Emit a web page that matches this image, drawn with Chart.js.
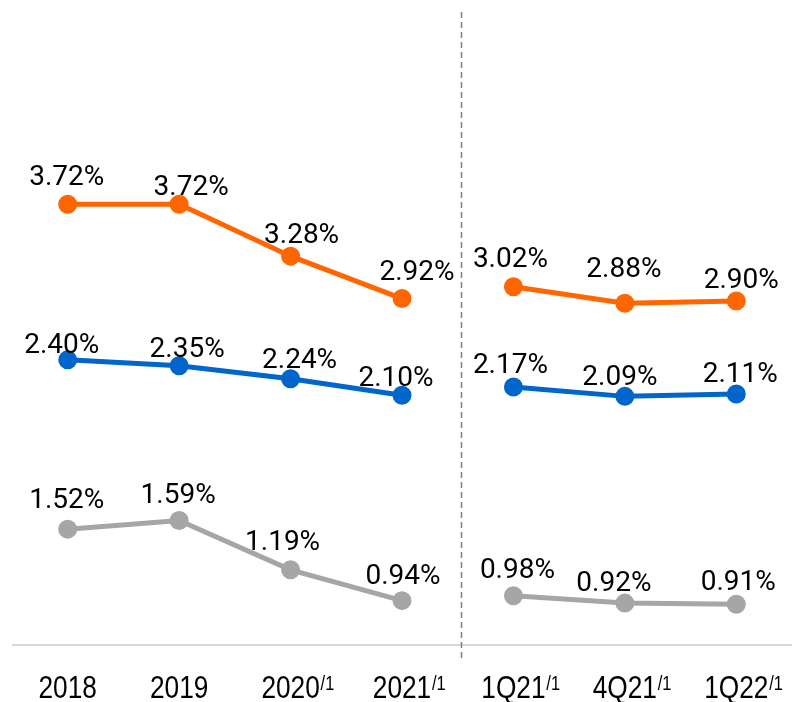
<!DOCTYPE html>
<html>
<head>
<meta charset="utf-8">
<script src="https://cdn.jsdelivr.net/npm/chart.js@4.4.1/dist/chart.umd.min.js"></script>
<style>
  html, body { margin: 0; padding: 0; background: #fff; }
  #wrap { width: 804px; height: 702px; }
</style>
</head>
<body>
<div id="wrap"><canvas id="lineChart" width="804" height="702"></canvas></div>
<script>
(function() {
    'use strict';

    /* ---- Data ---- */
    var categories = ['2018', '2019', '2020', '2021', '1Q21', '4Q21', '1Q22'];
    var footnotes = ['', '', '/1', '/1', '/1', '/1', '/1'];
    var orangeValues = [3.72, 3.72, 3.28, 2.92, 3.02, 2.88, 2.90];
    var blueValues = [2.40, 2.35, 2.24, 2.10, 2.17, 2.09, 2.11];
    var grayValues = [1.52, 1.59, 1.19, 0.94, 0.98, 0.92, 0.91];

    /* ---- Label nudges (px, relative to each point) ---- */
    var orangeNudge = [[-1, -29], [12, -19], [11, -23], [15, -29], [-3, -30], [-1, -36], [5, -23]];
    var blueNudge = [[-6, -17], [8, -19], [9, -21], [-6, -19], [-3, -24], [-5, -21], [4, -22]];
    var grayNudge = [[-1, -31], [-1, -28], [-8, -30], [1, -27], [4, -28], [-11, -22], [2, -24]];

    var BREAK_AFTER = 3;      // no line between 2021 and 1Q21
    var DIVIDER_AT = 3.53;    // dashed separator position on category scale
    var TICK_SQUEEZE = 0.82;  // narrow look for the category labels

    function pct(v) { return v.toFixed(2) + '%'; }

    function makeSet(data, color, nudge, axis) {
        return {
            data: data,
            yAxisID: axis,
            borderColor: color,
            backgroundColor: color,
            pointBackgroundColor: color,
            pointBorderColor: color,
            borderWidth: 5,
            pointRadius: 7,
            pointHoverRadius: 7,
            tension: 0,
            fill: false,
            clip: false,
            nudge: nudge,
            segment: {
                borderColor: function(ctx) { return ctx.p0DataIndex === BREAK_AFTER ? 'rgba(0,0,0,0)' : color; }
            }
        };
    }

    /* ---- Custom drawing: axis, divider, labels ---- */
    var decorPlugin = {
        id: 'decor',
        beforeDatasetsDraw: function(chart) {
            var c = chart.ctx, a = chart.chartArea, x = chart.scales.x;
            c.save();
            // bottom axis line
            c.strokeStyle = '#d9d9d9';
            c.lineWidth = 2;
            c.beginPath();
            c.moveTo(a.left, a.bottom);
            c.lineTo(a.right, a.bottom);
            c.stroke();
            // dashed divider
            var p3 = x.getPixelForValue(3), p4 = x.getPixelForValue(4);
            var dx = Math.round(p3 + (DIVIDER_AT - 3) * (p4 - p3)) + 0.5;
            c.strokeStyle = '#7f7f7f';
            c.lineWidth = 1.5;
            c.setLineDash([6, 4]);
            c.beginPath();
            c.moveTo(dx, a.top);
            c.lineTo(dx, a.bottom + 15);
            c.stroke();
            c.restore();
        },
        afterDatasetsDraw: function(chart) {
            var c = chart.ctx, a = chart.chartArea, x = chart.scales.x;
            c.save();
            // value labels
            c.fillStyle = '#000';
            c.font = '28px Roboto';
            c.textAlign = 'center';
            c.textBaseline = 'alphabetic';
            chart.data.datasets.forEach(function(ds, di) {
                var meta = chart.getDatasetMeta(di);
                meta.data.forEach(function(pt, i) {
                    var n = ds.nudge[i];
                    c.fillText(pct(ds.data[i]), pt.x + n[0], pt.y + n[1] + 10);
                });
            });
            // category labels with superscript footnotes (horizontally squeezed)
            var base = a.bottom + 53;
            categories.forEach(function(lab, i) {
                var px = x.getPixelForValue(i);
                c.save();
                c.translate(px, base);
                c.scale(TICK_SQUEEZE, 1);
                c.font = '32px "Liberation Sans", Arial, sans-serif';
                c.textAlign = 'center';
                c.fillText(lab, 0, 0);
                if (footnotes[i]) {
                    var w = c.measureText(lab).width;
                    c.font = '20px "Liberation Sans", Arial, sans-serif';
                    c.textAlign = 'left';
                    c.fillText(footnotes[i], w / 2 + 1, -8);
                }
                c.restore();
            });
            c.restore();
        }
    };

    var ctx = document.getElementById('lineChart');
    var lineChart = new Chart(ctx.getContext('2d'), {
        type: 'line',
        data: {
            labels: categories,
            datasets: [
                makeSet(orangeValues, '#ff6600', orangeNudge, 'y'),
                makeSet(blueValues, '#0066cc', blueNudge, 'y'),
                makeSet(grayValues, '#a6a6a6', grayNudge, 'y2')
            ]
        },
        options: {
            responsive: false,
            animation: false,
            devicePixelRatio: 1,
            layout: { padding: { top: 3, left: 10, right: 7, bottom: 57 } },
            plugins: { legend: { display: false }, tooltip: { enabled: false } },
            scales: {
                x: { type: 'category', offset: true, display: false },
                y: { display: false, min: -0.02, max: 5.352 },
                y2: { display: false, position: 'right', min: 0.58, max: 5.716 }
            }
        },
        plugins: [decorPlugin]
    });

    window.ChartModule = { lineChart: lineChart };
})();
</script>
</body>
</html>
